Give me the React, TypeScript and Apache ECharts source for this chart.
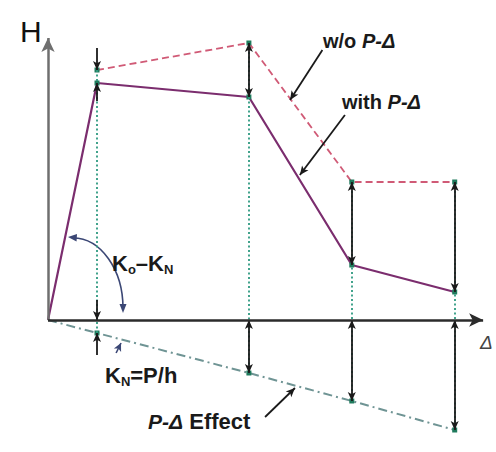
import React, { useEffect, useRef } from "react";
import * as echarts from "echarts";

// Lateral displacement at each step of the pushover curve
const deltas = [0, 1, 4.1, 6.2, 8.3];
// Base shear with P-Δ included
const withPD = [0, 23.7, 22.3, 5.5, 2.8];
// Base shear without P-Δ
const withoutPD: (number | null)[] = [null, 25.0, 27.7, 13.8, 13.8];
// Shear lost to the P-Δ effect
const effect = [0, -1.3, -5.3, -8.1, -11.0];

const FONT = "'Liberation Sans', Arial, Helvetica, sans-serif";
const DOT = "#1f7a5c";
const ARC = "#3b4775";

const pts = (ys: (number | null)[]) =>
  deltas
    .map((d, i) => (ys[i] === null ? null : { value: [d, ys[i]], symbol: i === 0 ? "none" : "rect" }))
    .filter((p) => p !== null);

const seg = (a: number[], b: number[]) => [{ coord: a }, { coord: b }];

function buildOption() {
  // dotted guides from the upper curve down to the P-Δ line
  const guides = deltas
    .map((d, i) => (i === 0 ? null : seg([d, withoutPD[i] as number], [d, effect[i]])))
    .filter((s) => s !== null);

  // double-headed dimension arrows
  const dims: any[] = [];
  for (let i = 2; i < deltas.length; i++) {
    dims.push(seg([deltas[i], withoutPD[i] as number], [deltas[i], withPD[i]]));
    dims.push(seg([deltas[i], 0], [deltas[i], effect[i]]));
  }

  // first step: gaps too small, arrows drawn from outside
  const d1 = deltas[1];
  const singles = [
    seg([d1, (withoutPD[1] as number) + 2.2], [d1, withoutPD[1] as number]),
    seg([d1, withPD[1] - 1.8], [d1, withPD[1]]),
    seg([d1, 2.0], [d1, 0]),
    seg([d1, effect[1] - 2.2], [d1, effect[1]]),
    // leaders from the labels
    seg([5.6, 27.0], [4.94, 22.0]),
    seg([6.06, 20.5], [5.14, 14.5]),
    seg([4.43, -9.7], [5.04, -6.8]),
  ];

  const hidden = {
    type: "line",
    data: [[0, 0]],
    showSymbol: false,
    silent: true,
    lineStyle: { opacity: 0 },
  };

  const sub = { fontSize: 13, fontWeight: "bold", lineHeight: 10, verticalAlign: "bottom", fontFamily: FONT };
  const main = { fontSize: 22, fontWeight: "bold", lineHeight: 26, fontFamily: FONT };
  const ital = { fontSize: 20, fontWeight: "bold", fontStyle: "italic", lineHeight: 26, fontFamily: FONT };

  return {
    animation: false,
    backgroundColor: "#ffffff",
    grid: { left: 48, top: 30, width: 441, height: 420 },
    xAxis: { type: "value", min: 0, max: 9, show: false },
    yAxis: { type: "value", min: -13, max: 29, show: false },
    series: [
      {
        ...hidden,
        markLine: {
          silent: true,
          symbol: "none",
          label: { show: false },
          lineStyle: { color: "#2e9a80", width: 1.8, type: [2, 2.5] },
          data: guides,
        },
      },
      {
        name: "P-Δ Effect",
        type: "line",
        data: pts(effect),
        symbolSize: 5,
        itemStyle: { color: DOT },
        lineStyle: { color: "#6f9494", width: 2, type: [9, 4, 2, 4] },
      },
      {
        name: "w/o P-Δ",
        type: "line",
        data: pts(withoutPD),
        symbolSize: 5,
        itemStyle: { color: DOT },
        lineStyle: { color: "#d05a76", width: 1.8, type: [7, 4] },
      },
      {
        name: "with P-Δ",
        type: "line",
        data: pts(withPD),
        symbolSize: 5,
        itemStyle: { color: DOT },
        lineStyle: { color: "#7b2d6e", width: 2.2 },
      },
      {
        ...hidden,
        markLine: {
          silent: true,
          symbol: ["arrow", "arrow"],
          symbolSize: [6, 9],
          label: { show: false },
          lineStyle: { color: "#1a1a1a", width: 1.8, type: "solid" },
          data: dims,
        },
      },
      {
        ...hidden,
        markLine: {
          silent: true,
          symbol: ["none", "arrow"],
          symbolSize: [6, 9],
          label: { show: false },
          lineStyle: { color: "#1a1a1a", width: 1.8, type: "solid" },
          data: singles,
        },
      },
      {
        // axes
        ...hidden,
        markLine: {
          silent: true,
          symbol: ["none", "arrow"],
          symbolSize: [10, 14],
          label: { show: false },
          data: [
            [
              { coord: [0, 0], lineStyle: { color: "#6f6f6f", width: 2.5, type: "solid" } },
              { coord: [0, 28.2] },
            ],
            [
              { coord: [0, 0], lineStyle: { color: "#2b2b2b", width: 2.5, type: "solid" } },
              { coord: [8.88, 0] },
            ],
          ],
        },
      },
      {
        ...hidden,
        markLine: {
          silent: true,
          symbol: ["none", "arrow"],
          symbolSize: [6, 8],
          label: { show: false },
          lineStyle: { color: ARC, width: 1.6, type: "solid" },
          data: [seg([1.39, -3.3], [1.49, -2.3])],
        },
      },
    ],
    graphic: [
      // stiffness arc between the initial and the reduced slope
      {
        type: "bezierCurve",
        shape: { x1: 73, y1: 238, cpx1: 101, cpy1: 238, cpx2: 123, cpy2: 270, x2: 123, y2: 308 },
        style: { stroke: ARC, lineWidth: 1.6, fill: "none" },
      },
      {
        type: "polygon",
        shape: { points: [[68, 237], [77, 234], [76.5, 241.5]] },
        style: { fill: ARC },
      },
      {
        type: "polygon",
        shape: { points: [[123, 313], [119.5, 304], [126.5, 304]] },
        style: { fill: ARC },
      },
      {
        type: "text",
        x: 20,
        y: 31,
        style: { text: "H", fontSize: 30, fontFamily: FONT, fill: "#111", verticalAlign: "middle" },
      },
      {
        type: "text",
        x: 480,
        y: 342,
        style: {
          text: "Δ",
          fontSize: 19,
          fontStyle: "italic",
          fontFamily: FONT,
          fill: "#444",
          verticalAlign: "middle",
        },
      },
      {
        type: "text",
        x: 323,
        y: 41,
        style: {
          text: "{m|w/o }{i|P-Δ}",
          verticalAlign: "middle",
          fill: "#1a1a1a",
          rich: { m: { ...main, fontSize: 20 }, i: ital },
        },
      },
      {
        type: "text",
        x: 342,
        y: 102,
        style: {
          text: "{m|with }{i|P-Δ}",
          verticalAlign: "middle",
          fill: "#1a1a1a",
          rich: { m: { ...main, fontSize: 20 }, i: ital },
        },
      },
      {
        type: "text",
        x: 112,
        y: 263,
        style: {
          text: "{m|K}{s|o}{m|–K}{s|N}",
          verticalAlign: "middle",
          fill: "#1a1a1a",
          rich: { m: main, s: sub },
        },
      },
      {
        type: "text",
        x: 105,
        y: 375,
        style: {
          text: "{m|K}{s|N}{m|=P/h}",
          verticalAlign: "middle",
          fill: "#1a1a1a",
          rich: { m: main, s: sub },
        },
      },
      {
        type: "text",
        x: 148,
        y: 421,
        style: {
          text: "{i|P-Δ}{m| Effect}",
          verticalAlign: "middle",
          fill: "#1a1a1a",
          rich: { m: main, i: { ...ital, fontSize: 21 } },
        },
      },
    ],
  };
}

export default function App() {
  const ref = useRef<HTMLDivElement>(null);
  useEffect(() => {
    if (!ref.current) return;
    const chart = echarts.init(ref.current, undefined, { renderer: "svg" });
    chart.setOption(buildOption() as any);
    return () => chart.dispose();
  }, []);
  return (
    <div
      ref={ref}
      style={{ position: "absolute", left: 0, top: 0, width: 496, height: 452, background: "#fff" }}
    />
  );
}
